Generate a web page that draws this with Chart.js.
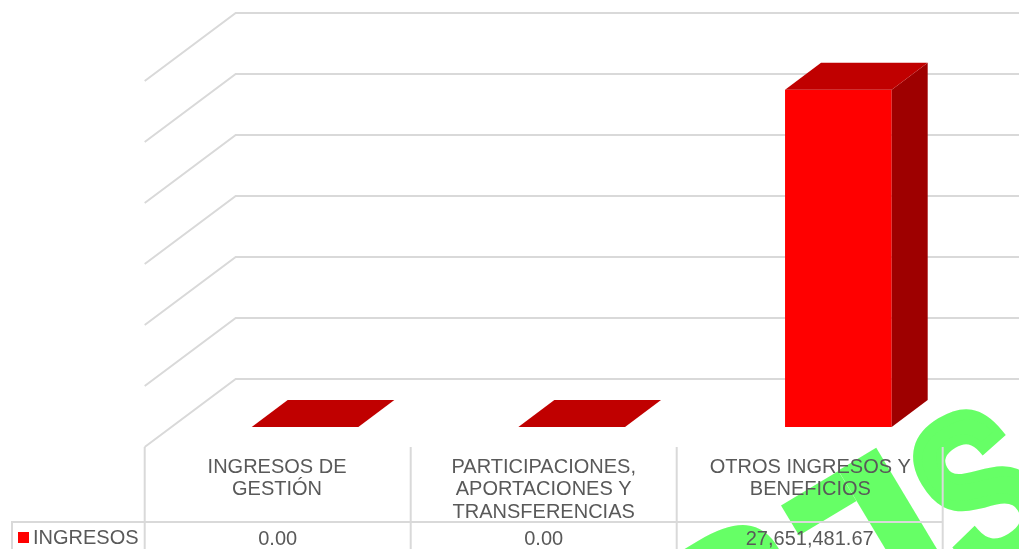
<!DOCTYPE html>
<html>
<head>
<meta charset="utf-8">
<style>
    html, body { margin: 0; padding: 0; background: #ffffff; }
    #wrap { position: relative; width: 1019px; height: 549px; overflow: hidden; }
</style>
<script src="https://cdn.jsdelivr.net/npm/chart.js@4"></script>
</head>
<body>
<div id="wrap"><canvas id="grafica" width="1019" height="549"></canvas></div>
<script>
const categorias = [
    ["INGRESOS DE", "GESTIÓN"],
    ["PARTICIPACIONES,", "APORTACIONES Y", "TRANSFERENCIAS"],
    ["OTROS INGRESOS Y", "BENEFICIOS"]
];
const ingresos = [0.00, 0.00, 27651481.67];
const serieNombre = "INGRESOS";
const ejeMax = 30000000;
const ejePaso = 5000000;

const colores = {
    frente: "#FF0000",
    arriba: "#C00000",
    lado: "#9E0000",
    grid: "#D9D9D9",
    texto: "#595959",
    marca: "#66FF66"
};
const fuente = '"Liberation Sans", Arial, sans-serif';

// desplazamiento de la perspectiva: pared del fondo y profundidad de la barra
const fondoX = 91, fondoY = -68;
const barraX = 36, barraY = -27;
const tablaArriba = 522, tablaAbajo = 549;
const anchoTabla = 266;

// marca de agua verde, va debajo de los textos de la tabla
const marcaAgua = {
    id: "marcaAgua",
    beforeDraw(chart) {
        const ctx = chart.ctx;
        ctx.save();
        ctx.fillStyle = colores.marca;
        ctx.strokeStyle = colores.marca;
        ctx.textAlign = "left";
        ctx.textBaseline = "alphabetic";
        ctx.translate(908, 628.6);
        ctx.rotate(-31 * Math.PI / 180);
        ctx.font = 'bold 235px "DejaVu Sans"';
        ctx.fillText("R", -224, -12);
        ctx.fillText("I", 0, 0);
        // ala de arriba a la izquierda de la I
        ctx.fillRect(-45.4, -171, 67, 35);
        // la S va mas angosta
        ctx.translate(80, -2);
        ctx.scale(0.72, 1);
        ctx.font = "bold 225px " + fuente;
        ctx.lineWidth = 11;
        ctx.lineJoin = "miter";
        ctx.miterLimit = 4;
        ctx.fillText("S", 0, 0);
        ctx.strokeText("S", 0, 0);
        ctx.restore();
    }
};

// lineas de division en perspectiva, sacadas de la escala
const rejilla3d = {
    id: "rejilla3d",
    beforeDatasetsDraw(chart) {
        const ctx = chart.ctx, y = chart.scales.y, x = chart.scales.x;
        const frenteIzq = x.left - 27;
        const offset = 20 + fondoY;
        ctx.save();
        ctx.strokeStyle = colores.grid;
        ctx.lineWidth = 2;
        y.ticks.forEach(t => {
            const py = y.getPixelForValue(t.value) + offset;
            ctx.beginPath();
            ctx.moveTo(frenteIzq, py - fondoY);
            ctx.lineTo(frenteIzq + fondoX, py);
            ctx.lineTo(chart.width, py);
            ctx.stroke();
        });
        ctx.restore();
    }
};

// caras de arriba y del lado de cada barra
const barras3d = {
    id: "barras3d",
    afterDatasetsDraw(chart) {
        const ctx = chart.ctx;
        chart.getDatasetMeta(0).data.forEach(b => {
            const izq = b.x - b.width / 2, der = b.x + b.width / 2;
            ctx.fillStyle = colores.lado;
            ctx.beginPath();
            ctx.moveTo(der, b.y);
            ctx.lineTo(der + barraX, b.y + barraY);
            ctx.lineTo(der + barraX, b.base + barraY);
            ctx.lineTo(der, b.base);
            ctx.closePath();
            ctx.fill();
            ctx.fillStyle = colores.arriba;
            ctx.beginPath();
            ctx.moveTo(izq, b.y);
            ctx.lineTo(izq + barraX, b.y + barraY);
            ctx.lineTo(der + barraX, b.y + barraY);
            ctx.lineTo(der, b.y);
            ctx.closePath();
            ctx.fill();
        });
    }
};

// tabla de datos de abajo
const tablaDatos = {
    id: "tablaDatos",
    afterDraw(chart) {
        const ctx = chart.ctx, x = chart.scales.x;
        const inicio = x.left - 27;
        const arriba = chart.scales.y.bottom + 20;
        ctx.save();
        ctx.strokeStyle = colores.grid;
        ctx.lineWidth = 2;
        for (let i = 0; i <= categorias.length; i++) {
            ctx.beginPath();
            ctx.moveTo(inicio + anchoTabla * i, arriba);
            ctx.lineTo(inicio + anchoTabla * i, tablaAbajo);
            ctx.stroke();
        }
        ctx.beginPath();
        ctx.moveTo(12, tablaAbajo);
        ctx.lineTo(12, tablaArriba);
        ctx.lineTo(inicio + anchoTabla * categorias.length, tablaArriba);
        ctx.stroke();

        ctx.fillStyle = colores.frente;
        ctx.fillRect(18, 532, 11, 11);

        ctx.fillStyle = colores.texto;
        ctx.font = "20px " + fuente;
        ctx.textBaseline = "alphabetic";
        ctx.textAlign = "left";
        ctx.fillText(serieNombre, 33, 544);
        ctx.textAlign = "center";
        ingresos.forEach((v, i) => {
            const txt = v.toLocaleString("en-US", { minimumFractionDigits: 2, maximumFractionDigits: 2 });
            ctx.fillText(txt, inicio + anchoTabla * (i + 0.5), 545);
        });
        ctx.restore();
    }
};

new Chart(document.getElementById("grafica"), {
    type: "bar",
    data: {
        labels: categorias,
        datasets: [{
            label: serieNombre,
            data: ingresos,
            backgroundColor: colores.frente,
            categoryPercentage: 1,
            barPercentage: 0.4
        }]
    },
    options: {
        responsive: false,
        animation: false,
        layout: { autoPadding: false, padding: { left: 171.7, right: 47.3, top: 61, bottom: 0 } },
        plugins: { legend: { display: false }, tooltip: { enabled: false } },
        scales: {
            x: {
                grid: { display: false },
                border: { display: false },
                afterFit(scale) { scale.height = 122; },
                ticks: {
                    color: colores.texto,
                    font: { family: fuente, size: 20, lineHeight: 1.125 },
                    padding: 21,
                    labelOffset: -28,
                    maxRotation: 0,
                    minRotation: 0,
                    autoSkip: false
                }
            },
            y: {
                min: 0,
                max: ejeMax,
                grid: { display: false },
                border: { display: false },
                afterFit(scale) { scale.width = 0; },
                ticks: { display: false, stepSize: ejePaso }
            }
        }
    },
    plugins: [marcaAgua, rejilla3d, barras3d, tablaDatos]
});
</script>
</body>
</html>
